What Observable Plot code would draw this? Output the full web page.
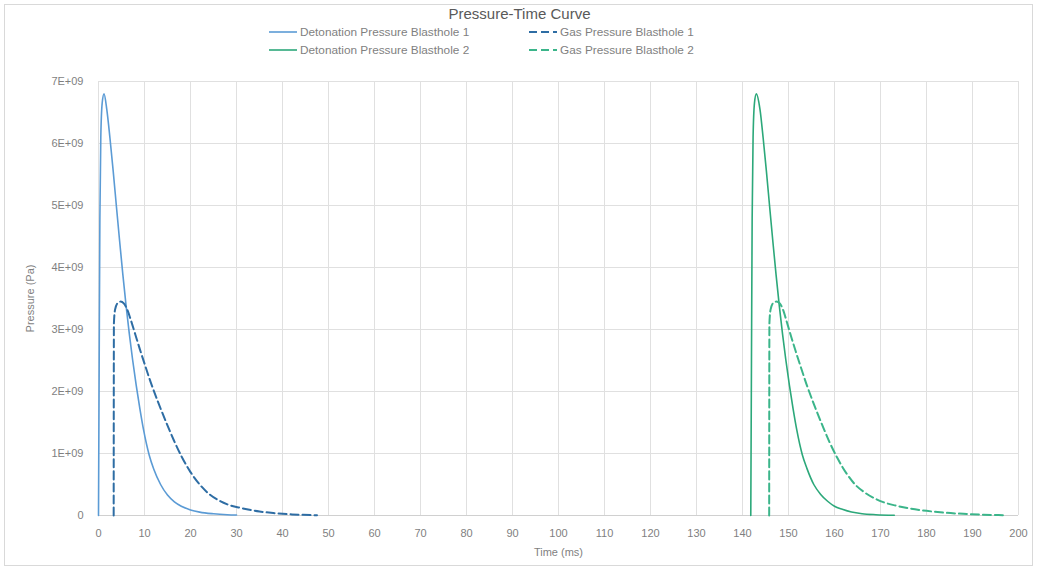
<!DOCTYPE html>
<html>
<head>
<meta charset="utf-8">
<script src="https://cdn.jsdelivr.net/npm/d3@7"></script>
<script src="https://cdn.jsdelivr.net/npm/@observablehq/plot@0.6"></script>
<style>
  html, body { margin: 0; padding: 0; background: #fff; }
  body { width: 1039px; height: 575px; position: relative; overflow: hidden; font-family: "Liberation Sans", Arial, sans-serif; }
  #frame { position: absolute; left: 4px; top: 4px; width: 1029px; height: 562px; border: 1px solid #d9d9d9; box-sizing: border-box; }
  #title { position: absolute; left: 0; width: 1039px; top: 5px; text-align: center; font-size: 15px; color: #595959; }
  .leg { position: absolute; font-size: 11.8px; color: #7f7f7f; white-space: nowrap; line-height: 14px; }
  .leg svg { position: absolute; left: 0; top: 1px; }
  .leg span { position: absolute; left: 32px; top: 0; }
  #chart { position: absolute; left: 0; top: 60px; }
</style>
</head>
<body>
<div id="frame"></div>
<div id="title"></div>
<div id="legend"></div>
<div id="chart"></div>
<script>
// ---- data (time in ms, pressure in Pa) ----
const titleText = "Pressure-Time Curve";
const xLabel = "Time (ms)";
const yLabel = "Pressure (Pa)";
const seriesNames = [
  "Detonation Pressure Blasthole 1",
  "Gas Pressure Blasthole 1",
  "Detonation Pressure Blasthole 2",
  "Gas Pressure Blasthole 2"
];
const seriesColors = ["#5b9bd5", "#2e6da4", "#2ca87a", "#3bb58a"];
const seriesDashed = [false, true, false, true];

const det1 = [[0,0],[0.15,2.5e9],[0.3,4.8e9],[0.5,6.1e9],[0.8,6.65e9],[1.2,6.8e9],[1.8,6.55e9],[2.5,6.08e9],[3.2,5.55e9],[3.9,4.98e9],[4.6,4.42e9],[5.3,3.88e9],[6.0,3.38e9],[6.7,2.93e9],[7.4,2.52e9],[8.2,2.1e9],[9.0,1.72e9],[9.8,1.38e9],[11,0.98e9],[12,0.75e9],[13.5,0.5e9],[15,0.33e9],[16.5,0.22e9],[18,0.15e9],[20,0.09e9],[22,0.055e9],[25,0.028e9],[28,0.013e9],[30,0.008e9]];
const gas1 = [[3.3,0],[3.35,3.1e9],[3.6,3.32e9],[4.2,3.43e9],[4.8,3.45e9],[5.5,3.42e9],[6.2,3.33e9],[7.0,3.16e9],[8.0,2.92e9],[9.0,2.68e9],[10,2.45e9],[11.3,2.16e9],[13,1.82e9],[14.9,1.47e9],[16.4,1.21e9],[18,0.96e9],[20,0.7e9],[22,0.5e9],[24,0.35e9],[26,0.25e9],[28,0.18e9],[31,0.12e9],[35,0.065e9],[38,0.04e9],[42,0.018e9],[47.5,0.004e9]];
const det2 = [[141.8,0],[141.95,2.5e9],[142.1,4.8e9],[142.3,6.1e9],[142.6,6.65e9],[143,6.8e9],[143.8,6.55e9],[144.5,6.08e9],[145.2,5.55e9],[145.9,4.98e9],[146.6,4.42e9],[147.3,3.88e9],[148.0,3.38e9],[148.7,2.93e9],[149.4,2.52e9],[150.2,2.1e9],[151.0,1.72e9],[151.8,1.38e9],[153.0,0.98e9],[154.0,0.76e9],[155.5,0.5e9],[157,0.34e9],[158.5,0.23e9],[160,0.15e9],[161.7,0.1e9],[163.7,0.055e9],[166,0.028e9],[169,0.013e9],[173,0.004e9]];
const gas2 = [[145.8,0],[145.85,3.1e9],[146.1,3.32e9],[146.7,3.43e9],[147.4,3.45e9],[148.1,3.42e9],[148.8,3.32e9],[149.6,3.13e9],[150.6,2.88e9],[151.6,2.64e9],[152.6,2.41e9],[153.9,2.12e9],[155.6,1.78e9],[157.5,1.43e9],[159,1.17e9],[160.6,0.93e9],[162.6,0.68e9],[164.6,0.49e9],[166.6,0.37e9],[168.6,0.28e9],[170.6,0.215e9],[173.6,0.155e9],[176.6,0.11e9],[180,0.075e9],[184,0.045e9],[188,0.027e9],[192,0.014e9],[197,0.004e9]];

const xTicks = [0,10,20,30,40,50,60,70,80,90,100,110,120,130,140,150,160,170,180,190,200];
const yTicks = [0,1e9,2e9,3e9,4e9,5e9,6e9,7e9];
const yTickLabels = ["0","1E+09","2E+09","3E+09","4E+09","5E+09","6E+09","7E+09"];

// ---- build table ----
const allSeries = [det1, gas1, det2, gas2];
const rows = [];
allSeries.forEach((s, i) => s.forEach(([t, p]) => rows.push({t, p, series: seriesNames[i]})));

// ---- title & legend ----
document.getElementById("title").textContent = titleText;
const legendPos = [[268, 25], [528, 25], [268, 43], [528, 43]];
const legend = document.getElementById("legend");
seriesNames.forEach((name, i) => {
  const d = document.createElement("div");
  d.className = "leg";
  d.style.left = legendPos[i][0] + "px";
  d.style.top = legendPos[i][1] + "px";
  d.style.width = "230px";
  d.style.height = "14px";
  d.innerHTML = `<svg width="30" height="12"><line x1="1" x2="29" y1="6" y2="6" stroke="${seriesColors[i]}" stroke-width="${seriesDashed[i] ? 2 : 1.6}" ${seriesDashed[i] ? 'stroke-dasharray="8,4"' : ''}/></svg><span></span>`;
  d.querySelector("span").textContent = name;
  legend.appendChild(d);
});

// ---- plot ----
const chart = Plot.plot({
  width: 1039,
  height: 500,
  marginLeft: 98,
  marginRight: 21,
  marginTop: 21,
  marginBottom: 45,
  style: { fontFamily: "Liberation Sans, Arial, sans-serif", fontSize: "11px", color: "#7f7f7f", background: "transparent" },
  x: { domain: [0, 200] },
  y: { domain: [0, 7e9] },
  color: { domain: seriesNames, range: seriesColors },
  marks: [
    Plot.gridX(xTicks, { stroke: "#e0e0e0", strokeOpacity: 1 }),
    Plot.gridY(yTicks, { stroke: "#e0e0e0", strokeOpacity: 1 }),
    Plot.ruleY([0], { stroke: "#d0d0d0" }),
    ...seriesNames.map((name, i) => Plot.line(rows.filter(r => r.series === name), {
      x: "t", y: "p",
      stroke: seriesColors[i],
      strokeWidth: seriesDashed[i] ? 2 : 1.6,
      strokeDasharray: seriesDashed[i] ? "8,4" : null,
      curve: "monotone-x"
    })),
    Plot.axisX(xTicks, { tickSize: 0, tickPadding: 14, label: xLabel, labelAnchor: "center", labelArrow: "none", labelOffset: 40, fill: "#7f7f7f" }),
    Plot.axisY(yTicks, { tickSize: 0, tickPadding: 15, tickFormat: d => yTickLabels[yTicks.indexOf(d)], label: yLabel, labelAnchor: "center", labelArrow: "none", labelOffset: 72, fill: "#7f7f7f" })
  ]
});
document.getElementById("chart").appendChild(chart);
</script>
</body>
</html>
